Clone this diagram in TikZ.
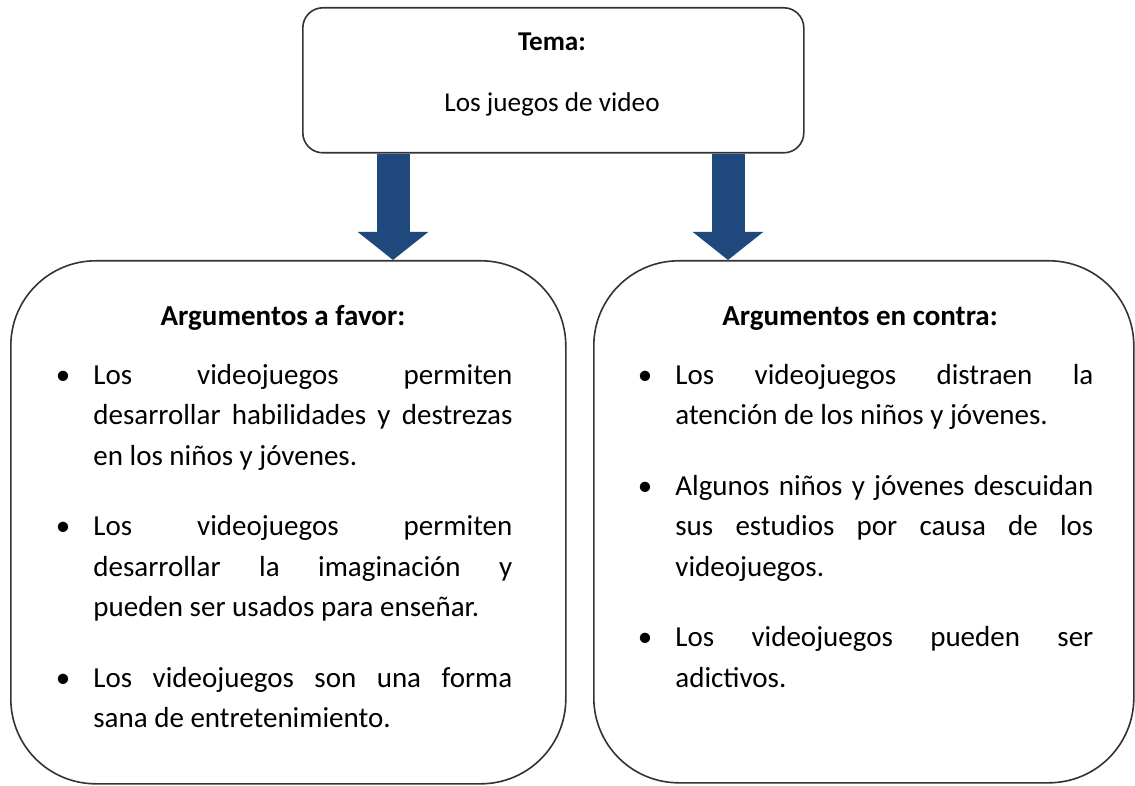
\documentclass[tikz,border=0pt]{standalone}
\usepackage{fontspec}
\setmainfont{Carlito}
\usepackage{enumitem}
\usetikzlibrary{arrows.meta}
\definecolor{arrowblue}{RGB}{31,73,125}
\tikzset{
  box/.style={draw=black!80, line width=0.8pt, fill=white, inner sep=0pt, anchor=north west},
  bigarrow/.style={arrowblue, line width=16.5pt, -{Triangle[width=34.5pt,length=14pt]}},
  headtext/.style={font=\fontsize{14.5pt}{20.25pt}\selectfont\bfseries, anchor=base, inner sep=0pt},
  listtext/.style={font=\fontsize{14.5pt}{20.25pt}\selectfont, align=justify, anchor=north west, inner sep=0pt}
}
\setlist[itemize]{label=\textbullet, leftmargin=12pt, labelsep=11.5pt, topsep=0pt, partopsep=0pt, parsep=0pt, itemsep=15pt}
\tolerance=9999
\hyphenpenalty=10000

\begin{document}
\begin{tikzpicture}[x=0.5pt, y=-0.5pt]
  \useasboundingbox (0,0) rectangle (1135,786);
  % top box
  \node[box, rounded corners=10pt, minimum width=250.5pt, minimum height=72.5pt] (tema) at (302,7) {};
  \node[font=\fontsize{13.6pt}{16.6pt}\selectfont\bfseries, anchor=base, inner sep=0pt] (temahead) at (552,51) {Tema:};
  \node[font=\fontsize{13.6pt}{16.6pt}\selectfont, anchor=base, inner sep=0pt] (tematext) at (552,112) {Los juegos de video};
  % the two boxes below
  \node[box, rounded corners=42.5pt, minimum width=277.5pt, minimum height=261.5pt] (favor) at (10,260) {};
  \node[box, rounded corners=42.5pt, minimum width=270pt, minimum height=261pt] (contra) at (593,260) {};
  % arrows
  \coordinate (leftx) at (393,0);
  \coordinate (rightx) at (728,0);
  \draw[bigarrow] (leftx |- tema.south) -- (leftx |- favor.north);
  \draw[bigarrow] (rightx |- tema.south) -- (rightx |- contra.north);
  % headings
  \node[headtext] (favorhead) at (283,325) {Argumentos a favor:};
  \node[headtext] (contrahead) at (860,325) {Argumentos en contra:};
  % lists
  \node[listtext, text width=221.5pt] (favorlist) at (69,343.5) {%
    \begin{itemize}
      \item Los videojuegos permiten\linebreak desarrollar habilidades y destrezas\linebreak en los niños y jóvenes.
      \item Los videojuegos permiten\linebreak desarrollar la imaginación y\linebreak pueden ser usados para enseñar.
      \item Los videojuegos son una forma\linebreak sana de entretenimiento.
    \end{itemize}};
  \node[listtext, text width=221pt] (contralist) at (651,343.5) {%
    \begin{itemize}
      \item Los videojuegos distraen la\linebreak atención de los niños y jóvenes.
      \item Algunos niños y jóvenes descuidan\linebreak sus estudios por causa de los\linebreak videojuegos.
      \item Los videojuegos pueden ser\linebreak adictivos.
    \end{itemize}};
\end{tikzpicture}
\end{document}
